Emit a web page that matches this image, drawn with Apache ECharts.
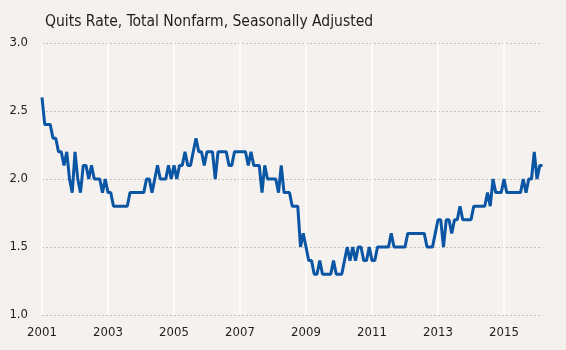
<!DOCTYPE html>
<html>
<head>
<meta charset="utf-8">
<script src="https://cdn.jsdelivr.net/npm/echarts@6/dist/echarts.min.js"></script>
<style>
  html, body { margin: 0; padding: 0; background: #F4F1EE; }
  #chart { width: 566px; height: 350px; }
</style>
</head>
<body>
<div id="chart"></div>
<script>
const startYear = 2001;
// monthly quits rate, Jan 2001 .. Mar 2016 (one row per year)
const quitsRate = [
  2.6, 2.4, 2.4, 2.4, 2.3, 2.3, 2.2, 2.2, 2.1, 2.2, 2.0, 1.9,
  2.2, 2.0, 1.9, 2.1, 2.1, 2.0, 2.1, 2.0, 2.0, 2.0, 1.9, 2.0,
  1.9, 1.9, 1.8, 1.8, 1.8, 1.8, 1.8, 1.8, 1.9, 1.9, 1.9, 1.9,
  1.9, 1.9, 2.0, 2.0, 1.9, 2.0, 2.1, 2.0, 2.0, 2.0, 2.1, 2.0,
  2.1, 2.0, 2.1, 2.1, 2.2, 2.1, 2.1, 2.2, 2.3, 2.2, 2.2, 2.1,
  2.2, 2.2, 2.2, 2.0, 2.2, 2.2, 2.2, 2.2, 2.1, 2.1, 2.2, 2.2,
  2.2, 2.2, 2.2, 2.1, 2.2, 2.1, 2.1, 2.1, 1.9, 2.1, 2.0, 2.0,
  2.0, 2.0, 1.9, 2.1, 1.9, 1.9, 1.9, 1.8, 1.8, 1.8, 1.5, 1.6,
  1.5, 1.4, 1.4, 1.3, 1.3, 1.4, 1.3, 1.3, 1.3, 1.3, 1.4, 1.3,
  1.3, 1.3, 1.4, 1.5, 1.4, 1.5, 1.4, 1.5, 1.5, 1.4, 1.4, 1.5,
  1.4, 1.4, 1.5, 1.5, 1.5, 1.5, 1.5, 1.6, 1.5, 1.5, 1.5, 1.5,
  1.5, 1.6, 1.6, 1.6, 1.6, 1.6, 1.6, 1.6, 1.5, 1.5, 1.5, 1.6,
  1.7, 1.7, 1.5, 1.7, 1.7, 1.6, 1.7, 1.7, 1.8, 1.7, 1.7, 1.7,
  1.7, 1.8, 1.8, 1.8, 1.8, 1.8, 1.9, 1.8, 2.0, 1.9, 1.9, 1.9,
  2.0, 1.9, 1.9, 1.9, 1.9, 1.9, 1.9, 2.0, 1.9, 2.0, 2.0, 2.2,
  2.0, 2.1, 2.1
];
const tickYears = ['2001', '2003', '2005', '2007', '2009', '2011', '2013', '2015'];

// month categories like "2001-01"
const months = [];
for (let i = 0; i < quitsRate.length; i++) {
  const y = startYear + Math.floor(i / 12);
  const m = (i % 12) + 1;
  months.push(y + '-' + (m < 10 ? '0' + m : m));
}

function isTick(idx, val) {
  return val.slice(5) === '01' && tickYears.indexOf(val.slice(0, 4)) >= 0;
}

const font = "'Liberation Sans Narrow', 'DejaVu Sans Condensed', sans-serif";

const chart = echarts.init(document.getElementById('chart'));
chart.setOption({
  animation: false,
  backgroundColor: '#F4F1EE',
  title: {
    text: 'Quits Rate, Total Nonfarm, Seasonally Adjusted',
    left: 40,
    top: 9,
    textStyle: { color: '#1e1e1e', fontSize: 15.5, fontWeight: 'normal', fontFamily: font }
  },
  grid: { left: 42, right: 23.5, top: 43, bottom: 35 },
  xAxis: {
    type: 'category',
    data: months,
    boundaryGap: false,
    axisLine: { show: false },
    axisTick: { show: false },
    axisLabel: {
      interval: isTick,
      formatter: function (val) { return val.slice(0, 4); },
      color: '#1e1e1e',
      fontSize: 13,
      fontFamily: font,
      margin: 11
    },
    splitLine: {
      show: true,
      interval: isTick,
      lineStyle: { color: '#ffffff', width: 1.5 }
    }
  },
  yAxis: {
    type: 'value',
    min: 1,
    max: 3,
    interval: 0.5,
    axisLine: { show: false },
    axisTick: { show: false },
    axisLabel: {
      formatter: function (v) { return v.toFixed(1); },
      color: '#1e1e1e',
      fontSize: 13,
      fontFamily: font,
      margin: 14
    },
    splitLine: {
      lineStyle: { color: '#c2bfbb', type: [2, 2], width: 1 }
    }
  },
  series: [
    {
      name: 'Quits Rate',
      type: 'line',
      data: quitsRate,
      showSymbol: false,
      lineStyle: { color: '#0B56A4', width: 3 },
      itemStyle: { color: '#0B56A4' }
    }
  ]
});

window.addEventListener('resize', function () {
  chart.resize();
});
</script>
</body>
</html>
